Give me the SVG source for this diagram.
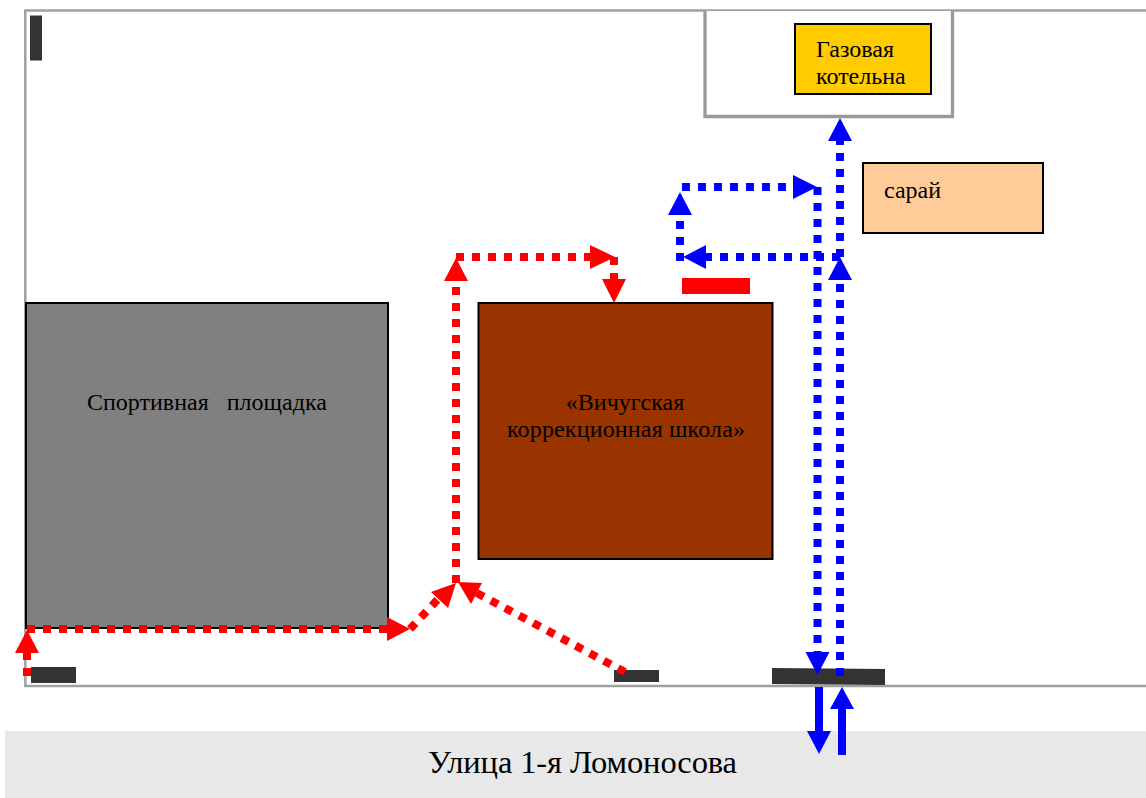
<svg xmlns="http://www.w3.org/2000/svg" width="1146" height="798" viewBox="0 0 1146 798">
<style>
text{font-family:"Liberation Serif","Times New Roman",serif;fill:#000;font-size:24px}
.b{stroke:#000;stroke-width:2}
.d{fill:#333}
.fr{fill:none;stroke:#a0a0a0;stroke-width:2.500}
.r{fill:none;stroke:#f00;stroke-width:8;stroke-dasharray:8 8}
.u{fill:none;stroke:#00f;stroke-width:8;stroke-dasharray:8 8}
.s{fill:none;stroke:#00f;stroke-width:8}
.hr{fill:#f00}
.hu{fill:#00f}
</style>
<rect width="1146" height="798" fill="#fff"/>
<g id="site"><path class="fr" d="M1146 10.500H25.300V686H1146"/></g>
<g id="street"><rect x="5" y="731" width="1141" height="67" fill="#e8e8e8"/><text x="428" y="773" textLength="309" style="font-size:32.500px">Улица 1-я Ломоносова</text></g>
<g id="boiler-yard"><path d="M705 11V116.500H952.500V11" fill="#fff" stroke="#999" stroke-width="3.300"/></g>
<g id="boiler"><rect class="b" x="795" y="24" width="136" height="70" fill="#fc0"/><text x="816" y="57">Газовая</text><text x="816" y="84">котельна</text></g>
<g id="shed"><rect class="b" x="863" y="163" width="180" height="70" fill="#fc9"/><text x="884" y="198">сарай</text></g>
<g id="sports"><rect class="b" x="26" y="303" width="362" height="325" fill="#808080"/><text x="87" y="410" xml:space="preserve">Спортивная   площадка</text></g>
<g id="school"><rect class="b" x="478.500" y="303" width="294" height="256" fill="#930"/><text x="625" y="410" text-anchor="middle">«Вичугская</text><text x="507" y="437" textLength="238">коррекционная школа»</text></g>
<g id="marks">
<rect class="d" x="30" y="15.500" width="12" height="45"/>
<rect class="d" x="31" y="667" width="45" height="16"/>
<rect class="d" x="614" y="670" width="45" height="12"/>
<polygon class="d" points="772,668 885,669 885,685 772,684"/>
<rect x="682" y="278" width="68" height="16" fill="#f00"/>
</g>
<g id="connectors">
<path class="r" d="M27 676V652"/><polygon class="hr" points="27,630 15,653 39,653"/>
<path class="r" d="M27 629H390"/><polygon class="hr" points="410,629 387,617 387,641"/>
<path class="r" d="M410 629L440 597"/><polygon class="hr" points="456,583 431,592 448,608"/>
<path class="r" d="M456 583V275"/><polygon class="hr" points="456,258 444,281 468,281"/>
<path class="r" d="M456 257H595"/><polygon class="hr" points="615,257 590,245 590,269"/>
<path class="r" d="M614 257V282"/><polygon class="hr" points="614,303 602,279 626,279"/>
<path class="r" d="M625 672L475 592"/><polygon class="hr" points="458,582 471,604 482,583"/>
<path class="u" d="M817.500 187V655"/><polygon class="hu" points="817.500,675 805.500,652 829.500,652"/>
<path class="u" d="M840 676V275"/><polygon class="hu" points="840,257 828,280 852,280"/>
<path class="u" d="M840 257V135"/><polygon class="hu" points="840,118 828,141 852,141"/>
<path class="u" d="M840 257H700"/><polygon class="hu" points="683,257 706,245 706,269"/>
<path class="u" d="M680 261V210"/><polygon class="hu" points="680,192 668,215 692,215"/>
<path class="u" d="M682 187H800"/><polygon class="hu" points="817,187 793,175 793,199"/>
<path class="s" d="M819 687V735"/><polygon class="hu" points="819,754 807,731 831,731"/>
<path class="s" d="M842 755V705"/><polygon class="hu" points="842,687 830,709 854,709"/>
</g>
</svg>
